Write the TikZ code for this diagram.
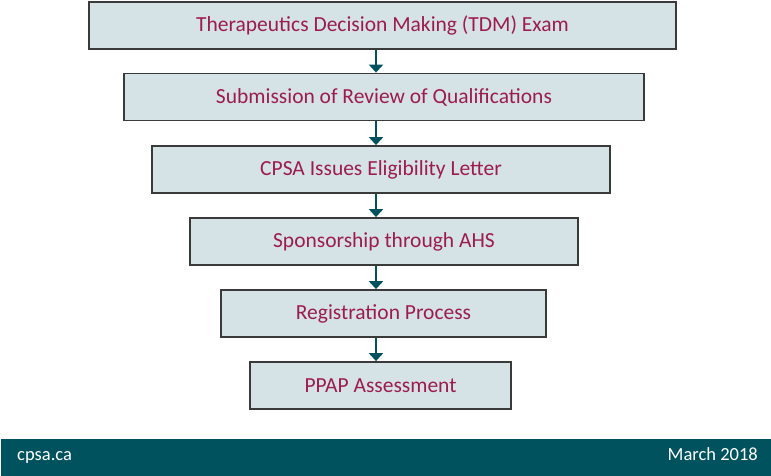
\documentclass[tikz,border=0pt]{standalone}
\usepackage{fontspec}
\setmainfont{Carlito}
\usetikzlibrary{arrows.meta}
\definecolor{boxfill}{HTML}{D5E3E6}
\definecolor{boxline}{HTML}{3A3A3A}
\definecolor{wine}{HTML}{9C1C4E}
\definecolor{teal}{HTML}{00535E}
\begin{document}
\begin{tikzpicture}[x=1pt,y=-1pt]
	\tikzstyle{stage}=[rectangle, draw=boxline, line width=1.8pt, fill=boxfill, minimum height=47pt, inner sep=0pt, text=wine, font=\fontsize{21.5}{24}\selectfont]
	\tikzstyle{flow}=[draw=teal, line width=2.6pt, -{Triangle[width=14pt,length=8pt]}]
	\tikzstyle{foot}=[text=white, inner sep=0pt, font=\fontsize{18.5}{20}\selectfont]
	
	\useasboundingbox (0,0) rectangle (771,476);
	\coordinate (axis) at (376,0);
	
	\draw node at (382.5, 25.5) [stage, minimum width=587pt] (tdm) {Therapeutics Decision Making (TDM) Exam};
	\draw node at (384, 97) [stage, minimum width=520pt] (roq) {Submission of Review of Qualifications};
	\draw node at (381, 169.5) [stage, minimum width=458pt] (elig) {CPSA Issues Eligibility Letter};
	\draw node at (384, 241.5) [stage, minimum width=388pt] (ahs) {Sponsorship through AHS};
	\draw node at (383.5, 313.5) [stage, minimum width=325pt] (reg) {Registration Process};
	\draw node at (380.5, 385.5) [stage, minimum width=261pt] (ppap) {PPAP Assessment};
	
	\draw [flow] (tdm.south -| axis) -- (roq.north -| axis);
	\draw [flow] (roq.south -| axis) -- (elig.north -| axis);
	\draw [flow] (elig.south -| axis) -- (ahs.north -| axis);
	\draw [flow] (ahs.south -| axis) -- (reg.north -| axis);
	\draw [flow] (reg.south -| axis) -- (ppap.north -| axis);
	
	% footer bar
	\fill [teal] (1,439) rectangle (771,476);
	\node at (17,460) [foot, anchor=base west] (site) {cpsa.ca};
	\node at (758,460) [foot, anchor=base east] (date) {March 2018};
\end{tikzpicture}
\end{document}
